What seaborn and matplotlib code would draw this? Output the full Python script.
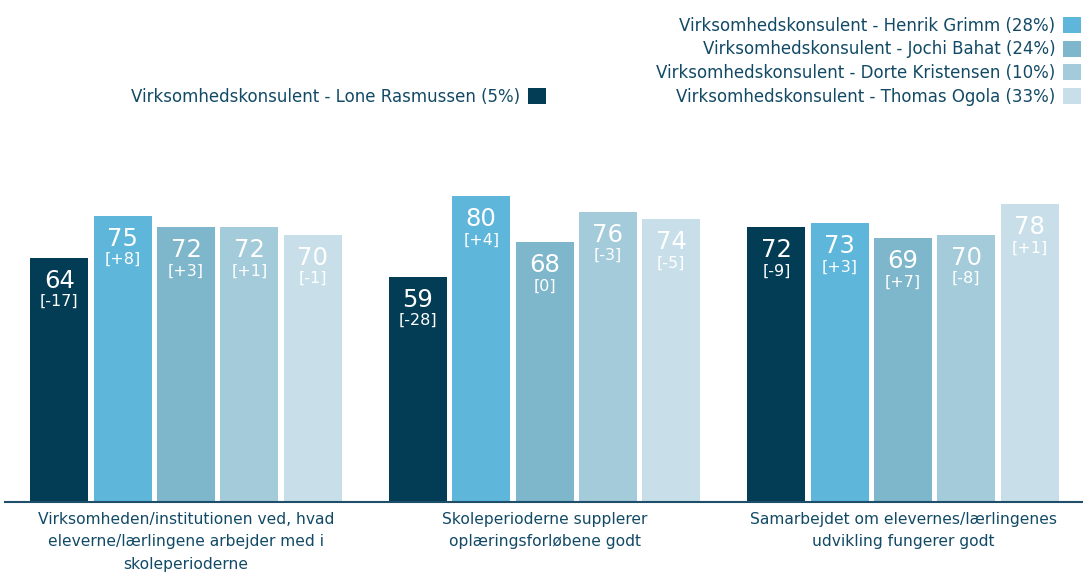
import pandas as pd
import numpy as np
import seaborn as sns
import matplotlib.pyplot as plt
from matplotlib.patches import Patch

# Data
spoergsmaal = [
    "Virksomheden/institutionen ved, hvad\neleverne/lærlingene arbejder med i\nskoleperioderne",
    "Skoleperioderne supplerer\noplæringsforløbene godt",
    "Samarbejdet om elevernes/lærlingenes\nudvikling fungerer godt",
]
konsulenter = [
    "Virksomhedskonsulent - Lone Rasmussen (5%)",
    "Virksomhedskonsulent - Henrik Grimm (28%)",
    "Virksomhedskonsulent - Jochi Bahat (24%)",
    "Virksomhedskonsulent - Dorte Kristensen (10%)",
    "Virksomhedskonsulent - Thomas Ogola (33%)",
]
lone = [64, 59, 72]
henrik = [75, 80, 73]
jochi = [72, 68, 69]
dorte = [72, 76, 70]
thomas = [70, 74, 78]

lone_diff = ["[-17]", "[-28]", "[-9]"]
henrik_diff = ["[+8]", "[+4]", "[+3]"]
jochi_diff = ["[+3]", "[0]", "[+7]"]
dorte_diff = ["[+1]", "[-3]", "[-8]"]
thomas_diff = ["[-1]", "[-5]", "[+1]"]

farver = ["#033D55", "#5EB6DB", "#7EB6CB", "#A3CBDA", "#C8DFE9"]
tekstfarve = "#124A66"

vaerdier = [lone, henrik, jochi, dorte, thomas]
diffs = [lone_diff, henrik_diff, jochi_diff, dorte_diff, thomas_diff]

dados = pd.DataFrame({
    "Spoergsmaal": [s for v in vaerdier for s in spoergsmaal],
    "Konsulent": [k for k, v in zip(konsulenter, vaerdier) for _ in v],
    "Score": [x for v in vaerdier for x in v],
})

plt.rcParams['font.family'] = ['DejaVu Sans']
fig = plt.figure(figsize=(10.83, 5.74), dpi=100)
ax = fig.add_axes([5 / 1083, 72 / 574, 1 - 5 / 1083, 382 / 574])

sns.barplot(data=dados, x="Spoergsmaal", y="Score", hue="Konsulent",
            hue_order=konsulenter, palette=farver, width=0.883, gap=0.083,
            legend=False, ax=ax, saturation=1)

# Labels inside the bars
for cont, d in zip(ax.containers, diffs):
    for bar, txt in zip(cont, d):
        cx = bar.get_x() + bar.get_width() / 2
        h = bar.get_height()
        ax.annotate(f"{h:.0f}", (cx, h), xytext=(0, -23), textcoords="offset pixels",
                    ha="center", va="center", color="white", fontsize=17.5)
        ax.annotate(txt, (cx, h), xytext=(0, -44), textcoords="offset pixels",
                    ha="center", va="center", color="white", fontsize=11.5)

ax.set_ylim(0, 100)
ax.set_xlim(-0.505, 2.502)
ax.set_xlabel("")
ax.set_ylabel("")
ax.set_yticks([])
for s in ["top", "right", "left"]:
    ax.spines[s].set_visible(False)
ax.spines["bottom"].set_color("#1F4E6B")
ax.spines["bottom"].set_linewidth(1.5)
ax.tick_params(axis="x", length=0, pad=7, labelsize=11.2, labelcolor=tekstfarve)
for lbl in ax.get_xticklabels():
    lbl.set_linespacing(1.62)

# Legends
handles = [Patch(facecolor=c, edgecolor="none") for c in farver]
leg1 = fig.legend(handles[:1], konsulenter[:1], loc="upper right",
                  bbox_to_anchor=(546 / 1083, 1 - 88 / 574), frameon=False,
                  markerfirst=False, fontsize=12, handlelength=1.1,
                  handleheight=1.1, handletextpad=0.45, borderaxespad=0,
                  borderpad=0, labelcolor=tekstfarve)
leg2 = fig.legend(handles[1:], konsulenter[1:], loc="upper right",
                  bbox_to_anchor=(1081 / 1083, 1 - 17 / 574), frameon=False,
                  markerfirst=False, fontsize=12, handlelength=1.1,
                  handleheight=1.1, handletextpad=0.45, labelspacing=0.33,
                  borderaxespad=0, borderpad=0, labelcolor=tekstfarve)

plt.savefig("out.png", dpi=100)
